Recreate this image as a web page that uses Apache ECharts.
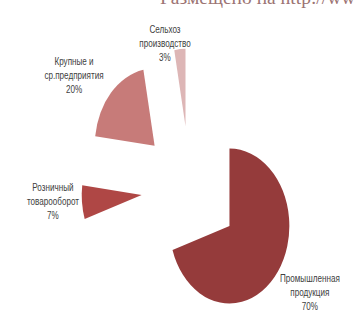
<!DOCTYPE html>
<html>
<head>
<meta charset="utf-8">
<script src="https://cdn.jsdelivr.net/npm/echarts@6/dist/echarts.min.js"></script>
<style>
  html, body { margin: 0; padding: 0; width: 357px; height: 322px; overflow: hidden; background: #fff; }
  #wrap { position: absolute; left: 0; top: 0; width: 357px; height: 322px; overflow: hidden; }
  #chart { position: absolute; left: 0; top: 0; width: 462px; height: 322px; transform: scaleX(0.7727); transform-origin: 0 0; }
  #wm { position: absolute; left: 160px; top: -12px; font-family: "Liberation Serif", "DejaVu Serif", serif; font-size: 19.5px; line-height: 20px; color: #9c7474; white-space: nowrap; }
</style>
</head>
<body>
<div id="wrap">
  <div id="chart"></div>
  <div id="wm">Размещено на http://www.allbest.ru/</div>
</div>
<script>
const categories = ['Промышленная\nпродукция', 'Розничный\nтоварооборот', 'Крупные и\nср.предприятия', 'Сельхоз\nпроизводство'];
const values = [70, 7, 20, 3];
const colors = ['#953B3B', '#AF4745', '#C77B79', '#DDB6B6'];
// label anchor points (layout, in unscaled chart pixels)
const labelPos = [[401, 293], [68.5, 202], [95.8, 76], [213.5, 43.5]];

const total = values.reduce(function (a, b) { return a + b; }, 0);
const labelGraphics = categories.map(function (c, i) {
  return {
    type: 'text',
    x: labelPos[i][0],
    y: labelPos[i][1],
    silent: true,
    style: {
      text: c + '\n' + Math.round(values[i] / total * 100) + '%',
      align: 'center',
      verticalAlign: 'middle',
      fontFamily: '"Liberation Sans", Arial, sans-serif',
      fontSize: 10.5,
      lineHeight: 14,
      fill: '#404040'
    }
  };
});

const chart = echarts.init(document.getElementById('chart'), null, { renderer: 'svg' });
chart.setOption({
  animation: false,
  graphic: labelGraphics,
  series: [{
    type: 'pie',
    center: [246, 189],
    radius: 77.5,
    startAngle: 90,
    clockwise: true,
    selectedMode: 'multiple',
    selectedOffset: 63,
    itemStyle: { borderWidth: 0 },
    label: { show: false },
    labelLine: { show: false },
    emphasis: { disabled: true },
    select: { itemStyle: { borderWidth: 0 } },
    data: categories.map(function (c, i) {
      return { name: c, value: values[i], selected: true, itemStyle: { color: colors[i] }, select: { itemStyle: { color: colors[i] } } };
    })
  }]
});
</script>
</body>
</html>
